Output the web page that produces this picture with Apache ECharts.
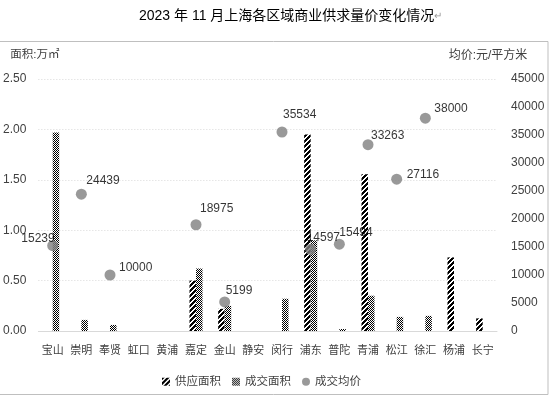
<!DOCTYPE html>
<html>
<head>
<meta charset="utf-8">
<script src="https://cdn.jsdelivr.net/npm/echarts@6/dist/echarts.min.js"></script>
<style>
  html, body { margin: 0; padding: 0; background: #fff; }
  #chart { width: 555px; height: 397px; }
</style>
</head>
<body>
<div id="chart"></div>
<script>
const districts = ['宝山', '崇明', '奉贤', '虹口', '黄浦', '嘉定', '金山', '静安', '闵行', '浦东', '普陀', '青浦', '松江', '徐汇', '杨浦', '长宁']
// 万㎡
const supplyArea = [null, null, null, null, null, 0.50, 0.22, null, null, 1.95, null, 1.555, null, null, 0.73, 0.125]
const dealArea = [1.97, 0.11, 0.06, null, null, 0.62, 0.25, null, 0.32, 0.90, 0.02, 0.35, 0.14, 0.15, null, null]
// 元/平方米
const avgPrice = [15239, 24439, 10000, null, null, 18975, 5199, null, 35534, 14597, 15494, 33263, 27116, 38000, null, null]

// label nudges (from dot centre), hand-placed like the original
const labelNudge = [[2, -7, 'right'], [5, -13], [9, -7], null, null, [4, -16], [1, -11], null,
  [1, -17], [-4, -12], [0, -12], [3, -9], [10, -4], [9, -10], null, null]

const FONT = "'Liberation Sans', 'Noto Sans CJK SC', sans-serif"

// wide upward diagonal, black on white
const makeHatch = () => {
  const n = 5
  const c = document.createElement('canvas')
  c.width = n; c.height = n
  const ctx = c.getContext('2d')
  ctx.fillStyle = '#fff'
  ctx.fillRect(0, 0, n, n)
  ctx.fillStyle = '#000'
  for (let y = 0; y < n; y++) {
    for (let k = 0; k < 3; k++) {
      ctx.fillRect((n - 1 - y + k) % n, y, 1, 1)
    }
  }
  return c
}

// 50% checker
const makeChecker = () => {
  const c = document.createElement('canvas')
  c.width = 2; c.height = 2
  const ctx = c.getContext('2d')
  ctx.fillStyle = '#fff'
  ctx.fillRect(0, 0, 2, 2)
  ctx.fillStyle = '#000'
  ctx.fillRect(0, 0, 1, 1)
  ctx.fillRect(1, 1, 1, 1)
  return c
}

const chart = echarts.init(document.getElementById('chart'))

const priceData = avgPrice.map((v, i) => {
  if (v == null) return '-'
  const n = labelNudge[i] || [5, -12]
  return {
    value: v,
    label: { align: n[2] || 'left', offset: [n[0], n[1]] }
  }
})

const option = {
  animation: false,
  textStyle: { fontFamily: FONT },
  title: {
    text: '2023 年 11 月上海各区域商业供求量价变化情况{m|↵}',
    left: 134,
    top: 4,
    textStyle: {
      fontSize: 14,
      fontWeight: 'normal',
      color: '#000',
      fontFamily: FONT,
      rich: { m: { fontSize: 10, color: '#999' } }
    }
  },
  graphic: [{
    type: 'rect',
    shape: { x: -1, y: 41.5, width: 549, height: 353 },
    style: { fill: 'none', stroke: '#bfbfbf', lineWidth: 1 },
    silent: true
  }],
  legend: {
    left: 157,
    top: 371,
    itemWidth: 8,
    itemHeight: 8,
    itemGap: 11,
    textStyle: { fontSize: 11.5, color: '#404040', fontFamily: FONT },
    data: [
      { name: '供应面积', icon: 'rect' },
      { name: '成交面积', icon: 'rect' },
      { name: '成交均价', icon: 'circle' }
    ]
  },
  grid: { left: 35, right: 58, top: 79, bottom: 66 },
  xAxis: {
    type: 'category',
    data: districts,
    axisLine: { lineStyle: { color: '#d9d9d9' } },
    axisTick: { show: false },
    axisLabel: { color: '#404040', fontSize: 11, margin: 14, interval: 0, fontFamily: FONT }
  },
  yAxis: [{
    type: 'value',
    min: 0,
    max: 2.5,
    interval: 0.5,
    name: '面积:万㎡',
    nameLocation: 'end',
    nameGap: 18,
    nameTextStyle: { fontSize: 11.5, color: '#404040', padding: [0, 7, 0, 0], fontFamily: FONT },
    axisLine: { show: false },
    axisTick: { show: false },
    axisLabel: { color: '#404040', fontSize: 12, margin: 12, formatter: v => v.toFixed(2) },
    splitLine: { lineStyle: { color: '#d9d9d9', type: [1, 2] } }
  }, {
    type: 'value',
    min: 0,
    max: 45000,
    interval: 5000,
    name: '均价:元/平方米',
    nameLocation: 'end',
    nameGap: 17,
    nameTextStyle: { fontSize: 12, color: '#404040', padding: [0, 18, 0, 0], fontFamily: FONT },
    axisLine: { show: false },
    axisTick: { show: false },
    axisLabel: { color: '#404040', fontSize: 12, margin: 14, formatter: v => String(v) },
    splitLine: { show: false }
  }],
  series: [{
    name: '供应面积',
    type: 'bar',
    barWidth: 6.5,
    barGap: 0,
    data: supplyArea.map(v => v == null ? '-' : v),
    itemStyle: { color: { image: makeHatch(), repeat: 'repeat' } }
  }, {
    name: '成交面积',
    type: 'bar',
    barWidth: 6.5,
    barGap: 0,
    data: dealArea.map(v => v == null ? '-' : v),
    itemStyle: { color: { image: makeChecker(), repeat: 'repeat' } }
  }, {
    name: '成交均价',
    type: 'scatter',
    yAxisIndex: 1,
    symbol: 'circle',
    symbolSize: 11,
    itemStyle: { color: '#808080' },
    label: {
      show: true,
      position: 'inside',
      verticalAlign: 'middle',
      color: '#000',
      fontSize: 12,
      fontFamily: FONT
    },
    data: priceData,
    z: 5
  }]
}

chart.setOption(option)
</script>
</body>
</html>
